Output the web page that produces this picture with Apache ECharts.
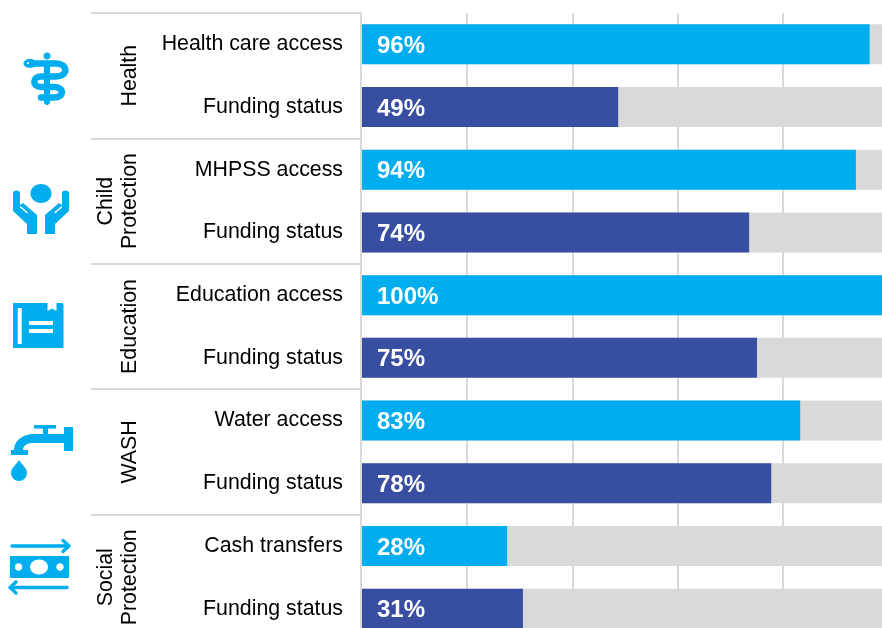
<!DOCTYPE html>
<html>
<head>
<meta charset="utf-8">
<title>Access and funding status by sector</title>
<script src="https://cdn.jsdelivr.net/npm/echarts@6/dist/echarts.min.js"></script>
<style>
  html, body { margin: 0; padding: 0; background: #fff; }
  #chart { width: 882px; height: 628px; }
</style>
</head>
<body>
<div id="chart"></div>
<script>
// chart data
const rowLabels = ['Health care access', 'Funding status', 'MHPSS access', 'Funding status', 'Education access',
  'Funding status', 'Water access', 'Funding status', 'Cash transfers', 'Funding status'];
const groupLabels = ['Health', 'Child\nProtection', 'Education', 'WASH', 'Social\nProtection'];
const barValues = [96.5, 48.7, 93.9, 73.6, 100, 75.1, 83.3, 77.8, 27.6, 30.6];
const barLabels = ['96%', '49%', '94%', '74%', '100%', '75%', '83%', '78%', '28%', '31%'];

const CYAN = '#00AEEF';
const NAVY = '#384EA1';
const GREY = '#D9D9D9';
const FONT = '"Liberation Sans", Arial, sans-serif';

// icons on the left, page coordinates
let shapeCount = 0;
const pathShape = (d) => {
  const name = 'icon' + shapeCount++;
  echarts.graphic.registerShape(name, echarts.graphic.extendPath(d, {}));
  return name;
};
const fillPath = (d, fill) => ({ type: pathShape(d), style: { fill: fill || CYAN } });
const linePath = (d, w, color) => ({
  type: pathShape(d),
  style: { fill: 'none', stroke: color || CYAN, lineWidth: w, lineCap: 'round', lineJoin: 'round' }
});
const oval = (cx, cy, rx, ry, fill) => ({ type: 'ellipse', shape: { cx, cy, rx, ry }, style: { fill: fill || CYAN } });
const box = (x, y, width, height, fill) => ({ type: 'rect', shape: { x, y, width, height }, style: { fill: fill || CYAN } });

const icons = [
  // health
  oval(47, 56, 3.6, 3.6),
  box(44, 66, 6, 37),
  oval(47, 102, 3, 3),
  oval(30, 63.5, 6.5, 4.4),
  linePath('M30 63.5 L56 63.5 C68.5 63.5 68.5 76.5 56 76.5 L41 76.5 C32 76.5 32 87 41 87 L54 87 C64.5 87 64.5 97.5 54 97.5 L41 97.5', 6.5),
  oval(28, 63, 1, 1, '#fff'),
  // child protection
  oval(41, 193.5, 10.5, 9.5),
  fillPath('M13 193 Q13 190.5 16.5 190.5 Q20 190.5 20 193 L20 205 L23 203 L37 215 L37 234 L27 234 L27 224 L13 211 Z'),
  fillPath('M69 193 Q69 190.5 65.5 190.5 Q62 190.5 62 193 L62 205 L59 203 L45 215 L45 234 L55 234 L55 224 L69 211 Z'),
  linePath('M20.5 207 L27 212.5', 1.5, '#fff'),
  linePath('M61.5 207 L55 212.5', 1.5, '#fff'),
  // education
  fillPath('M13 303 L47.5 303 L47.5 311 L52 308.5 L56.5 311 L56.5 303 L62 303 Q63.5 303 63.5 305 L63.5 348 L13 348 Z'),
  box(17.7, 308, 4, 36, '#fff'),
  box(29, 321, 24, 4, '#fff'),
  box(29, 329, 24, 4, '#fff'),
  // wash
  box(34, 425, 22, 3.6),
  box(43, 428, 5, 8),
  box(64, 427, 9, 24),
  fillPath('M64 434 L34 434 C22 434 14 441 14 450 L11 450 L11 455 L28 455 L28 450 L23 450 C23 446 27 443 32 443 L64 443 Z'),
  fillPath('M19 460 C22 465 27 468 27 473 A8 8 0 0 1 11 473 C11 468 16 465 19 460 Z'),
  // social protection
  box(10, 556, 59, 22),
  oval(39, 567, 9, 7.5, '#fff'),
  oval(18.5, 567, 3.7, 3.7, '#fff'),
  oval(60, 567, 3.7, 3.7, '#fff'),
  linePath('M12 546 L69 546 M63 540.5 L69 546 L63 551.5', 3.4),
  linePath('M67 587.5 L10 587.5 M16 582 L10 587.5 L16 593', 3.4)
];

const chart = echarts.init(document.getElementById('chart'));

const option = {
  animation: false,
  backgroundColor: '#fff',
  textStyle: { fontFamily: FONT },
  graphic: { elements: icons },
  // the plot runs a little past the right and bottom edges of the page, as in the source
  grid: { left: 362, top: 13, width: 526, height: 627, containLabel: false, outerBoundsMode: 'none' },
  xAxis: {
    type: 'value',
    min: 0,
    max: 100,
    interval: 20,
    axisLine: { show: false },
    axisTick: { show: false },
    axisLabel: { show: false },
    splitLine: { show: true, showMinLine: false, lineStyle: { color: GREY, width: 2 } }
  },
  yAxis: [
    {
      type: 'category',
      inverse: true,
      data: rowLabels,
      axisLine: { show: false },
      axisTick: { show: false },
      axisLabel: { color: '#000', fontSize: 21.33, fontFamily: FONT, margin: 19, interval: 0, padding: [3, 0, 0, 0] }
    },
    {
      type: 'category',
      inverse: true,
      position: 'left',
      offset: 1,
      data: groupLabels,
      axisLine: { show: true, lineStyle: { color: GREY, width: 2 } },
      axisTick: { show: true, length: 270, lineStyle: { color: GREY, width: 2 } },
      axisLabel: {
        color: '#000',
        fontSize: 21.33,
        fontFamily: FONT,
        lineHeight: 24,
        rotate: 90,
        interval: 0,
        margin: 219,
        align: 'center',
        verticalAlign: 'bottom'
      }
    }
  ],
  series: [
    {
      type: 'bar',
      yAxisIndex: 0,
      barWidth: 40,
      data: barValues,
      showBackground: true,
      backgroundStyle: { color: GREY },
      itemStyle: { color: (p) => (p.dataIndex % 2 === 0 ? CYAN : NAVY) },
      label: {
        show: true,
        position: 'insideLeft',
        distance: 15,
        offset: [0, 2],
        color: '#fff',
        fontSize: 24,
        fontWeight: 'bold',
        fontFamily: FONT,
        formatter: (p) => barLabels[p.dataIndex]
      }
    }
  ]
};

chart.setOption(option);
</script>
</body>
</html>
